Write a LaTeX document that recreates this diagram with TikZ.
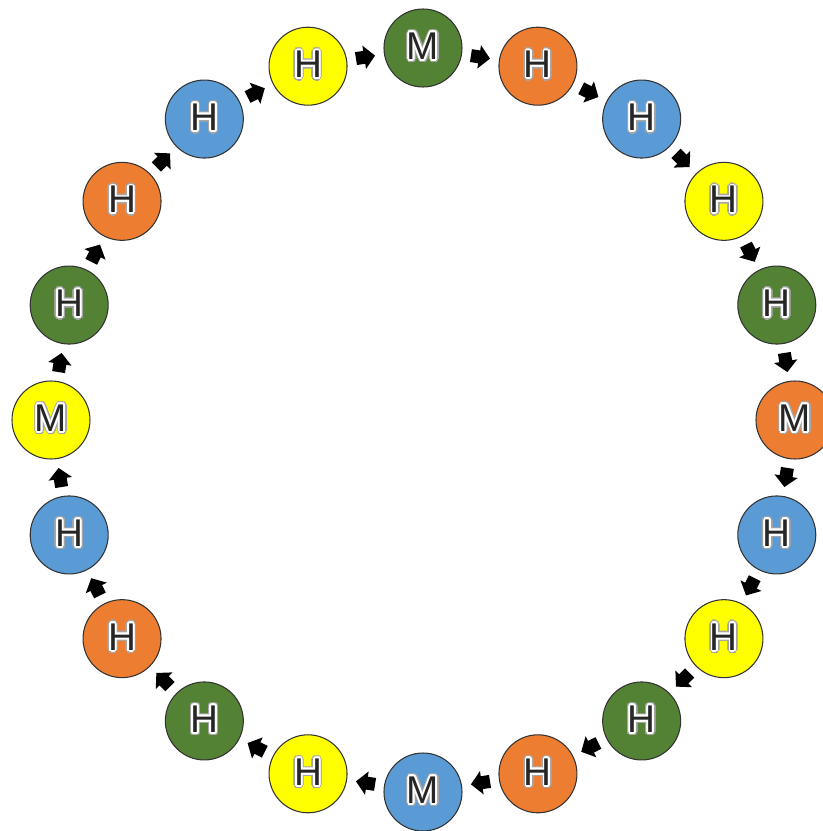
\documentclass[tikz,border=0pt]{standalone}
\usepackage{fontspec}
\setmainfont{Liberation Sans}
\usepackage{xcolor}
\usepackage[copies]{contour}
\usetikzlibrary{arrows.meta}

\definecolor{grn}{HTML}{548235}
\definecolor{org}{HTML}{ED7D31}
\definecolor{blu}{HTML}{5B9BD5}
\definecolor{ylw}{HTML}{FFFF00}

% letter with a light halo
\contournumber{12}
\newcommand{\glow}[1]{{\contourlength{1.9pt}\rlap{\contour{gray!70}{\color{white}#1}}}{\contourlength{1.1pt}\contour{white}{\color{black!85}#1}}}

\begin{document}
\begin{tikzpicture}[
    ball/.style={draw=black!80, line width=0.6pt, circle, minimum size=1.56cm, inner sep=0pt, font=\fontsize{22}{22}\selectfont},
    flow/.style={line width=0.26cm, -{Triangle[length=0.22cm, width=0.46cm]}, shorten <=0.18cm, shorten >=0.18cm}
]
    \clip (-8.46,-8.22) rectangle (8.0,8.4);
    \useasboundingbox (-8.46,-8.22) rectangle (8.0,8.4);

    % Ring of balls, clockwise from the top
    \foreach \i/\col/\txt in {1/grn/M, 2/org/H, 3/blu/H, 4/ylw/H, 5/grn/H,
                              6/org/M, 7/blu/H, 8/ylw/H, 9/grn/H, 10/org/H,
                              11/blu/M, 12/ylw/H, 13/grn/H, 14/org/H, 15/blu/H,
                              16/ylw/M, 17/grn/H, 18/org/H, 19/blu/H, 20/ylw/H} {
        \node[ball, fill=\col] (c\i) at ({90-18*(\i-1)}:7.44) {\glow{\txt}};
    }

    % Arrows between neighbours
    \foreach \i [evaluate=\i as \j using {int(mod(\i,20)+1)}] in {1,...,20} {
        \draw[flow] (c\i) -- (c\j);
    }
\end{tikzpicture}
\end{document}
